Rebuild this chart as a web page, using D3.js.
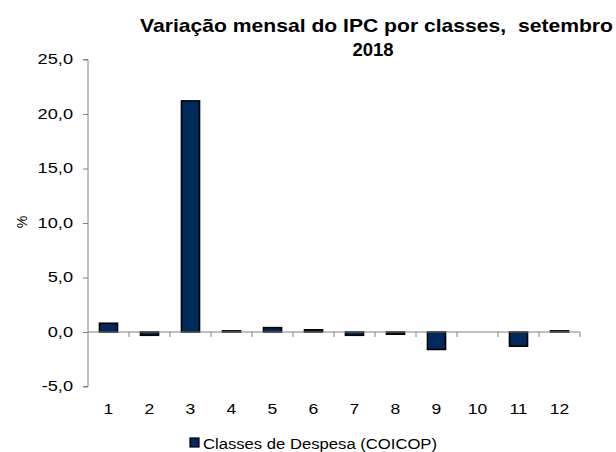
<!DOCTYPE html>
<html>
<head>
  <script src="https://d3js.org/d3.v7.min.js"></script>
  <style>
    body { margin: 0; background: #fff; }
    text { font-family: "Liberation Sans", Arial, sans-serif; fill: #000; }
  </style>
</head>
<body>
  <svg id="chart" width="616" height="452"></svg>
  <script>
    // data
    const classes = ["1", "2", "3", "4", "5", "6", "7", "8", "9", "10", "11", "12"];
    const variation = [0.8, -0.3, 21.2, 0.1, 0.4, 0.2, -0.3, -0.2, -1.6, 0, -1.3, 0.1];
    const yTicks = [-5, 0, 5, 10, 15, 20, 25];

    const svg = d3.select("#chart");
    const plotLeft = 88, plotRight = 580, plotTop = 59.5, plotBottom = 386.5;
    const barColor = "#002a5c";

    const x = d3.scaleBand().domain(classes).range([plotLeft, plotRight]).paddingInner(0.56).paddingOuter(0.28);
    const xb = d3.scaleBand().domain(classes).range([plotLeft, plotRight]);
    const y = d3.scaleLinear().domain([-5, 25]).range([plotBottom, plotTop]);
    const fmt = d => d.toFixed(1).replace(".", ",");

    // the original text renders wider than Liberation Sans, so widen glyphs a bit
    function widen(sel, factor) {
      sel.each(function () {
        const w = this.getComputedTextLength();
        d3.select(this).attr("textLength", w * factor).attr("lengthAdjust", "spacingAndGlyphs");
      });
    }

    // y axis
    const yAxis = svg.append("g")
      .attr("transform", `translate(${plotLeft},0)`)
      .call(d3.axisLeft(y).tickValues(yTicks).tickFormat(fmt).tickSize(5).tickPadding(10));
    yAxis.select(".domain").attr("stroke", "#808080").attr("d", `M-5,${plotTop}H0V${plotBottom}H-5`);
    yAxis.selectAll(".tick line").attr("stroke", "#808080");
    yAxis.selectAll("text")
      .style("font-size", "14px")
      .style("font-family", "Liberation Sans, Arial")
      .attr("fill", "#000");
    widen(yAxis.selectAll("text"), 1.3);

    // bars
    svg.selectAll("rect.bar")
      .data(variation)
      .join("rect")
      .attr("class", "bar")
      .attr("x", (d, i) => x(classes[i]))
      .attr("width", x.bandwidth())
      .attr("y", d => y(Math.max(0, d)))
      .attr("height", d => Math.abs(y(d) - y(0)))
      .attr("fill", d => d === 0 ? "none" : barColor)
      .attr("stroke", d => d === 0 ? "none" : "#000")
      .attr("stroke-width", 1.6);

    // x axis at zero
    const xAxis = svg.append("g").attr("transform", `translate(0,${y(0)})`);
    xAxis.append("line").attr("x1", plotLeft).attr("x2", plotRight).attr("stroke", "#808080");
    xAxis.selectAll("line.tk")
      .data(classes)
      .join("line")
      .attr("class", "tk")
      .attr("x1", d => xb(d) + xb.bandwidth()).attr("x2", d => xb(d) + xb.bandwidth())
      .attr("y1", 0).attr("y2", 5)
      .attr("stroke", "#808080");

    const xLabels = svg.selectAll("text.xl")
      .data(classes)
      .join("text")
      .attr("class", "xl")
      .attr("x", d => xb(d) + xb.bandwidth() / 2)
      .attr("y", 414)
      .attr("text-anchor", "middle")
      .style("font-size", "14px")
      .text(d => d);
    widen(xLabels, 1.25);

    // y title
    svg.append("text")
      .attr("transform", "translate(27,222) rotate(-90)")
      .attr("text-anchor", "middle")
      .style("font-size", "14px")
      .text("%");

    // title
    const title1 = svg.append("text")
      .attr("x", 376.5).attr("y", 32)
      .attr("text-anchor", "middle")
      .style("font-size", "18.5px")
      .style("font-weight", "bold")
      .text("Variação mensal do IPC por classes,\u00a0 setembro");
    title1.attr("textLength", 473).attr("lengthAdjust", "spacingAndGlyphs");
    svg.append("text")
      .attr("x", 373).attr("y", 56)
      .attr("text-anchor", "middle")
      .style("font-size", "18.5px")
      .style("font-weight", "bold")
      .text("2018");

    // legend
    svg.append("rect")
      .attr("x", 190).attr("y", 438).attr("width", 9).attr("height", 9)
      .attr("fill", barColor).attr("stroke", "#000").attr("stroke-width", 1.2);
    const legendText = svg.append("text")
      .attr("x", 203).attr("y", 449)
      .style("font-size", "14px")
      .text("Classes de Despesa (COICOP)");
    legendText.attr("textLength", 234).attr("lengthAdjust", "spacingAndGlyphs");
  </script>
</body>
</html>
